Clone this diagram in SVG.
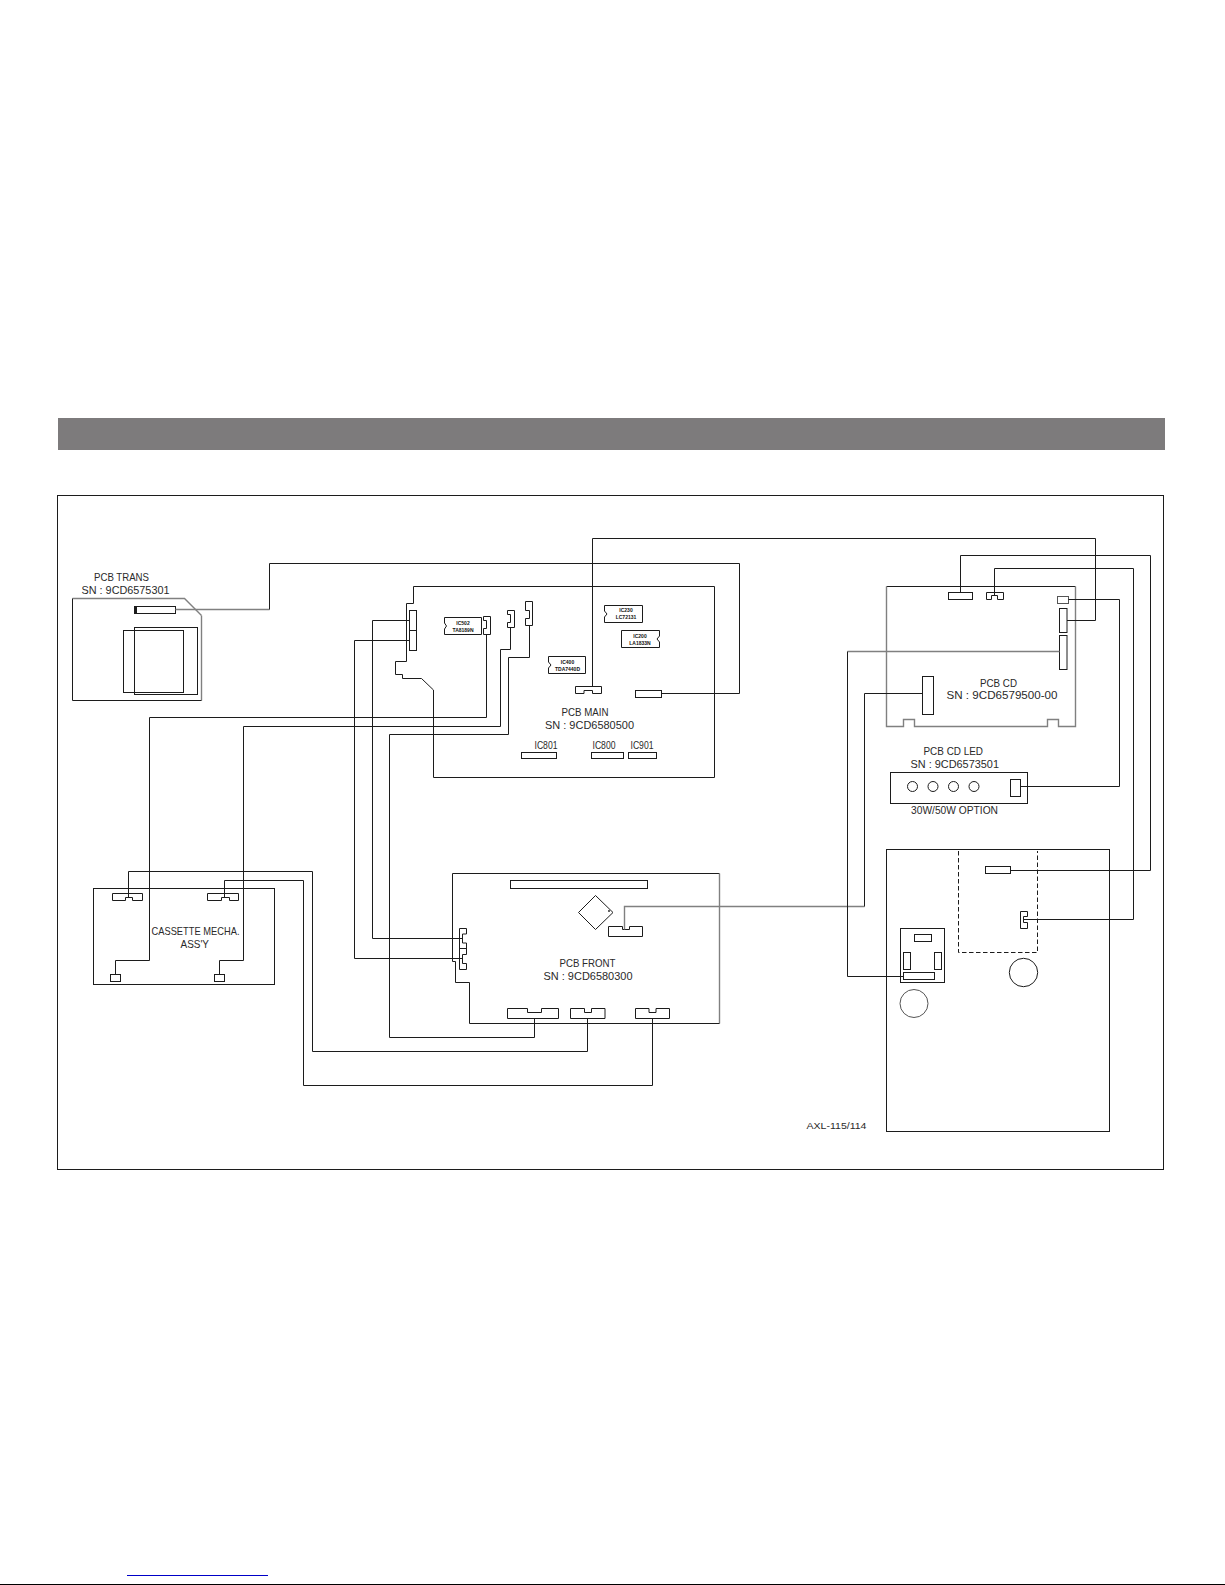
<svg xmlns="http://www.w3.org/2000/svg" width="1225" height="1585" viewBox="0 0 1225 1585">
<style>
.o{fill:none;stroke:#1c1c1c;stroke-width:1}
.g{fill:none;stroke:#808080;stroke-width:1.4}
.m{fill:none;stroke:#555;stroke-width:1}
.d{fill:none;stroke:#1c1c1c;stroke-width:1;stroke-dasharray:4.5 2.5}
text{font-family:"Liberation Sans",Arial,sans-serif;font-size:10.3px;fill:#2a2a2a;transform:translateY(-0.6px)}
.s{font-size:5px;font-weight:bold;text-anchor:middle;fill:#111;transform:none}
</style>
<rect id="bg" width="1225" height="1585" fill="#fff"/>
<rect id="title-bar" x="58" y="418" width="1107" height="32" fill="#7d7b7c"/>
<rect id="frame" x="57.5" y="495.5" width="1106" height="674" class="o"/>

<g id="pcb-trans">
<polyline class="g" points="201.5,615.5 201.5,700.5"/>
<polyline class="g" points="72.5,598.5 184.5,598.5 201.5,615.5"/>
<polyline class="o" points="72.5,598.5 72.5,700.5 201.5,700.5"/>
<rect x="134.5" y="606.5" width="41" height="7" class="o"/>
<rect x="134" y="606.5" width="3" height="7" fill="#1c1c1c"/>
<rect x="123.5" y="630.5" width="60" height="62" class="o"/>
<rect x="134.5" y="627.5" width="63" height="67" class="o"/>
<text x="94" y="581.5" textLength="55" lengthAdjust="spacingAndGlyphs">PCB TRANS</text>
<text x="81.5" y="594.5" textLength="88" lengthAdjust="spacingAndGlyphs">SN : 9CD6575301</text>
</g>

<g id="pcb-main">
<polyline class="o" points="413.5,586.5 714.5,586.5 714.5,777.5 433.5,777.5 433.5,690 421.5,678.5 402.5,678.5 402.5,674.5 395.5,674.5 395.5,661.5 406.5,661.5 406.5,603.5 413.5,603.5 413.5,586.5"/>
<rect x="409.5" y="610.5" width="7" height="40" class="o"/>
<line x1="409.5" y1="630.5" x2="416.5" y2="630.5" class="o"/>
<polyline class="o" points="483.5,616.5 490.5,616.5 490.5,634.5 483.5,634.5 483.5,628.5 486.5,628.5 486.5,620.5 483.5,620.5 483.5,616.5"/>
<polyline class="o" points="507.5,610.5 514.5,610.5 514.5,627.5 507.5,627.5 507.5,622.5 510.5,622.5 510.5,614.5 507.5,614.5 507.5,610.5"/>
<polyline class="o" points="525.5,601.5 532.5,601.5 532.5,625.5 525.5,625.5 525.5,618.5 529.5,618.5 529.5,610.5 525.5,610.5 525.5,601.5"/>
<polyline class="o" points="575.5,686.5 601.5,686.5 601.5,693.5 592.5,693.5 592.5,690.5 584,690.5 584,693.5 575.5,693.5 575.5,686.5"/>
<rect x="635.5" y="690.5" width="26" height="7" class="o"/>
<g id="ic502"><path class="o" d="M444.5 617.5H481.5V634.5H444.5V629L446.5 626L444.5 623Z"/><text class="s" x="463" y="625">IC502</text><text class="s" x="463" y="631.5">TA8189N</text></g>
<g id="ic230"><path class="o" d="M604.5 605.5H642.5V622.5H604.5V617L607 614L604.5 611Z"/><text class="s" x="626" y="612">IC230</text><text class="s" x="626" y="618.5">LC72131</text></g>
<g id="ic200"><path class="o" d="M621.5 630.5H659.5V636L657 639L659.5 642V647.5H621.5Z"/><text class="s" x="640" y="638">IC200</text><text class="s" x="640" y="644.5">LA1833N</text></g>
<g id="ic400"><path class="o" d="M548.5 656.5H585.5V673.5H548.5V668L551 665L548.5 662Z"/><text class="s" x="567.5" y="664">IC400</text><text class="s" x="567.5" y="670.5">TDA7440D</text></g>
<g id="ic801"><rect x="521.5" y="752.5" width="35" height="6" class="o"/><text x="534.5" y="750" textLength="23" lengthAdjust="spacingAndGlyphs">IC801</text></g>
<g id="ic800"><rect x="591.5" y="752.5" width="32" height="6" class="o"/><text x="592.5" y="750" textLength="23" lengthAdjust="spacingAndGlyphs">IC800</text></g>
<g id="ic901"><rect x="628.5" y="752.5" width="28" height="6" class="o"/><text x="630.5" y="750" textLength="23" lengthAdjust="spacingAndGlyphs">IC901</text></g>
<text x="561.5" y="716.5" textLength="47" lengthAdjust="spacingAndGlyphs">PCB MAIN</text>
<text x="545" y="729.5" textLength="89" lengthAdjust="spacingAndGlyphs">SN : 9CD6580500</text>
</g>

<g id="pcb-cd">
<polyline class="o" points="886.5,586.5 1075.5,586.5"/>
<polyline class="g" points="886.5,586.5 886.5,726.5 903.5,726.5 903.5,719.5 914.5,719.5 914.5,726.5 1047.5,726.5 1047.5,719.5 1058.5,719.5 1058.5,726.5 1075.5,726.5 1075.5,586.5"/>
<rect x="948.5" y="592.5" width="24" height="7" class="o"/>
<polyline class="o" points="986.5,592.5 1003.5,592.5 1003.5,599.5 997.5,599.5 997.5,595.5 991.5,595.5 991.5,599.5 986.5,599.5 986.5,592.5"/>
<rect x="1057.5" y="596.5" width="11" height="7" class="m"/>
<rect x="1059.5" y="608.5" width="7.5" height="24" class="o"/>
<rect x="1059.5" y="635.5" width="7.5" height="34" class="o"/>
<rect x="922.5" y="676.5" width="11" height="38" class="o"/>
<text x="980" y="687.5" textLength="37" lengthAdjust="spacingAndGlyphs">PCB CD</text>
<text x="946.5" y="700" textLength="111" lengthAdjust="spacingAndGlyphs">SN : 9CD6579500-00</text>
</g>

<g id="pcb-cd-led">
<rect x="890.5" y="772.5" width="137" height="31" class="o"/>
<circle cx="912.5" cy="786.5" r="5" class="o"/>
<circle cx="933" cy="786.5" r="5" class="o"/>
<circle cx="953.5" cy="786.5" r="5" class="o"/>
<circle cx="974" cy="786.5" r="5" class="o"/>
<rect x="1010.5" y="779.5" width="10" height="17" class="o"/>
<text x="923.5" y="755.5" textLength="59.5" lengthAdjust="spacingAndGlyphs">PCB CD LED</text>
<text x="910.5" y="768.5" textLength="88.5" lengthAdjust="spacingAndGlyphs">SN : 9CD6573501</text>
<text x="911" y="815" textLength="87" lengthAdjust="spacingAndGlyphs">30W/50W OPTION</text>
</g>

<g id="cassette">
<rect x="93.5" y="888.5" width="181" height="96" class="o"/>
<polyline class="o" points="112.5,893.5 142.5,893.5 142.5,900.5 132.5,900.5 132.5,897.5 125.5,897.5 125.5,900.5 112.5,900.5 112.5,893.5"/>
<polyline class="o" points="207.5,893.5 238.5,893.5 238.5,900.5 229.5,900.5 229.5,897.5 221.5,897.5 221.5,900.5 207.5,900.5 207.5,893.5"/>
<rect x="110.5" y="974.5" width="10" height="7" class="o"/>
<rect x="214.5" y="974.5" width="10" height="7" class="o"/>
<text x="151.5" y="936" textLength="88" lengthAdjust="spacingAndGlyphs">CASSETTE MECHA.</text>
<text x="180.5" y="948.5" textLength="28.5" lengthAdjust="spacingAndGlyphs">ASS'Y</text>
</g>

<g id="pcb-front">
<polyline class="o" points="452.5,961.5 452.5,873.5 719.5,873.5"/>
<polyline class="g" points="719.5,873.5 719.5,1023.5"/>
<polyline class="o" points="719.5,1023.5 469.5,1023.5 469.5,982.5 455.5,982.5 455.5,961.5 452.5,961.5"/>
<rect x="510.5" y="880.5" width="137" height="8" class="o"/>
<polygon points="578.5,912.5 595.5,895.5 613,912.5 595.5,929.5" class="o"/>
<circle cx="609" cy="911" r="0.9" fill="#1c1c1c"/>
<polyline class="o" points="608.5,926.5 622.5,926.5 622.5,929.5 629.5,929.5 629.5,926.5 642.5,926.5 642.5,936.5 608.5,936.5 608.5,926.5"/>
<polyline class="o" points="459.5,928.5 466.5,928.5 466.5,934 462.5,934 462.5,943 466.5,943 466.5,954.5 462.5,954.5 462.5,963.5 466.5,963.5 466.5,969.5 459.5,969.5 459.5,928.5"/>
<line x1="459.5" y1="948.5" x2="466.5" y2="948.5" class="o"/>
<polyline class="o" points="507.5,1008.5 527.5,1008.5 527.5,1012.5 541.5,1012.5 541.5,1008.5 558.5,1008.5 558.5,1018.5 507.5,1018.5 507.5,1008.5"/>
<polyline class="o" points="570.5,1008.5 584.5,1008.5 584.5,1012.5 591.5,1012.5 591.5,1008.5 605,1008.5 605,1018.5 570.5,1018.5 570.5,1008.5"/>
<polyline class="o" points="635.5,1008.5 649,1008.5 649,1012.5 656,1012.5 656,1008.5 669.5,1008.5 669.5,1018.5 635.5,1018.5 635.5,1008.5"/>
<text x="559.5" y="967.5" textLength="56" lengthAdjust="spacingAndGlyphs">PCB FRONT</text>
<text x="543.5" y="980.5" textLength="89" lengthAdjust="spacingAndGlyphs">SN : 9CD6580300</text>
</g>

<g id="chassis">
<rect x="886.5" y="849.5" width="223" height="282" class="o"/>
<polyline class="d" points="958.5,851 958.5,952.5 1037.5,952.5 1037.5,851"/>
<rect x="985.5" y="866.5" width="25" height="7" class="o"/>
<polyline class="o" points="1020.5,911.5 1027.5,911.5 1027.5,916.5 1023.5,916.5 1023.5,922.5 1027.5,922.5 1027.5,928.5 1020.5,928.5 1020.5,911.5"/>
<circle cx="1023.5" cy="972.5" r="14.2" class="o"/>
<circle cx="914" cy="1003.5" r="14" class="m"/>
<rect x="900.5" y="928.5" width="44" height="54" class="o"/>
<rect x="914.5" y="934.5" width="17" height="7" class="o"/>
<rect x="903.5" y="952.5" width="7" height="17" class="o"/>
<rect x="934.5" y="952.5" width="7" height="17" class="o"/>
<rect x="903.5" y="972.5" width="31" height="7" class="o"/>
</g>
<text id="model" x="806.5" y="1129.5" textLength="60" lengthAdjust="spacingAndGlyphs" style="font-size:9px">AXL-115/114</text>

<g id="connectors">
<polyline class="g" points="175.5,609.5 269.5,609.5"/>
<polyline class="o" points="269.5,609.5 269.5,563.5 739.5,563.5 739.5,693.5 661.5,693.5"/>
<polyline class="o" points="409.5,620.5 372.5,620.5 372.5,938.5 462.5,938.5"/>
<polyline class="o" points="409.5,640.5 354.5,640.5 354.5,958.5 462.5,958.5"/>
<polyline class="o" points="534.5,1018.5 534.5,1037.5 389.5,1037.5 389.5,734.5 508.5,734.5 508.5,657.5 529.5,657.5 529.5,625.5"/>
<polyline class="o" points="587.5,1018.5 587.5,1051.5 312.5,1051.5 312.5,871.5 128.5,871.5 128.5,897.5"/>
<polyline class="o" points="652.5,1018.5 652.5,1085.5 303.5,1085.5 303.5,880.5 224.5,880.5 224.5,897.5"/>
<polyline class="o" points="115.5,974.5 115.5,960.5 149.5,960.5 149.5,717.5 486.5,717.5 486.5,634.5"/>
<polyline class="o" points="219.5,974.5 219.5,960.5 243.5,960.5 243.5,726.5 500.5,726.5 500.5,649.5 510.5,649.5 510.5,627.5"/>
<polyline class="o" points="592.5,686.5 592.5,538.5 1095.5,538.5 1095.5,620.5 1067,620.5"/>
<polyline class="g" points="624.5,929.5 624.5,906.5 864.5,906.5"/>
<polyline class="o" points="864.5,906.5 864.5,693.5 922.5,693.5"/>
<polyline class="o" points="960.5,592.5 960.5,555.5 1150.5,555.5 1150.5,870.5 1010.5,870.5"/>
<polyline class="o" points="994.5,595.5 994.5,568.5 1133.5,568.5 1133.5,919.5 1023.5,919.5"/>
<polyline class="o" points="1068.5,599.5 1119.5,599.5 1119.5,786.5 1020.5,786.5"/>
<polyline class="g" points="1059.5,651.5 847.5,651.5"/>
<polyline class="o" points="847.5,651.5 847.5,976.5 903.5,976.5"/>
</g>
<line id="page-link" x1="127" y1="1575.5" x2="268" y2="1575.5" stroke="#0000c8" stroke-width="1"/>
<line id="page-edge" x1="0" y1="1584.5" x2="1225" y2="1584.5" stroke="#000" stroke-width="1"/>
</svg>
